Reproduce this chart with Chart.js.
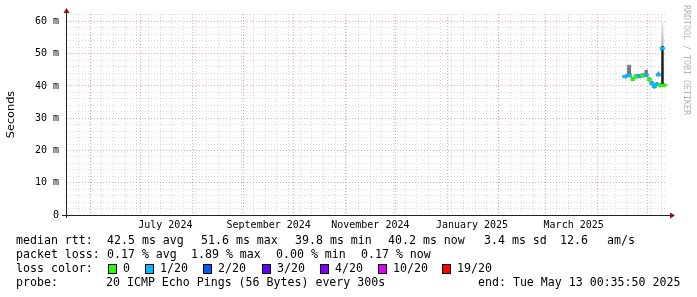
<!DOCTYPE html>
<html>
<head>
<meta charset="utf-8">
<script src="https://cdn.jsdelivr.net/npm/chart.js@4.4.1/dist/chart.umd.min.js"></script>
<style>
  html, body { margin: 0; padding: 0; background: #fff; }
</style>
</head>
<body>
<canvas id="smoke" width="697" height="297"></canvas>
<script>
// x values are days since graph start (2024-05-18 00:35), graph end (2025-05-13 00:35) = day 360
var rangeDays = 360;
var days    = [334.7, 337.4, 339.5, 341.3, 343.4, 345.5, 347.6, 349.4, 350.9, 352.4, 353.9, 354.8, 356.0, 357.2, 358.7];
var median  = [42.9, 43.3, 42.1, 42.9, 43.0, 43.2, 43.4, 42.0, 40.8, 39.8, 40.5, 43.5, 40.2, 51.6, 40.2];
var loss    = [1, 1, 0, 0, 1, 0, 1, 0, 1, 1, 1, 1, 0, 1, 0];   // lost pings out of 20
var smokeHi = [43.6, 46.6, 42.8, 43.6, 43.7, 43.9, 45.0, 42.7, 41.5, 40.5, 41.2, 44.5, 40.9, 59.7, 40.9];
var smokeLo = [42.3, 42.7, 41.5, 42.3, 42.4, 42.6, 42.8, 41.4, 40.2, 39.2, 39.9, 42.9, 39.6, 40.0, 39.6];
var coreHi  = [43.1, 43.6, 42.3, 43.1, 43.2, 43.4, 43.6, 42.2, 41.0, 40.0, 40.7, 43.7, 40.4, 52.4, 40.4];
var coreLo  = [42.7, 43.0, 41.9, 42.7, 42.8, 43.0, 43.2, 41.8, 40.6, 39.6, 40.3, 43.3, 40.0, 40.0, 40.0];

var monthStarts = [14, 44, 75, 106, 136, 167, 197, 228, 259, 287, 318, 348];
var firstWeek = 6.8;
var monthLabels = ['July 2024', 'September 2024', 'November 2024', 'January 2025', 'March 2025'];
var labelDays   = [59, 121, 182, 243, 304];

var yMax = 62.3;
var yLabelTicks = [0, 10, 20, 30, 40, 50, 60];

var lossSteps  = [0, 1, 2, 3, 4, 10, 19];
var lossNames  = ['0', '1/20', '2/20', '3/20', '4/20', '10/20', '19/20'];
var lossColors = ['#26ff00', '#00b8ff', '#0059ff', '#5e00ff', '#7e00ff', '#dd00ff', '#ff0000'];

var rttStats  = ['42.5 ms avg', '51.6 ms max', '39.8 ms min', '40.2 ms now', '3.4 ms sd', '12.6', 'am/s'];
var lossStats = ['0.17 % avg', '1.89 % max', '0.00 % min', '0.17 % now'];
var probeText = '20 ICMP Echo Pings (56 Bytes) every 300s';
var endText   = 'end: Tue May 13 00:35:50 2025';

function lossColor(n) {
    var c = lossColors[0];
    for (var i = 0; i < lossSteps.length; i++) {
        if (n >= lossSteps[i]) c = lossColors[i];
    }
    return c;
}

function pts(ys) {
    var out = [];
    for (var i = 0; i < days.length; i++) out.push({x: days[i], y: ys[i]});
    return out;
}

// x grid: weeks (gray), month starts (red), label positions (no line)
var xKind = {};
var xTickVals = [];
for (var w = firstWeek; w < rangeDays; w += 7) { xKind[w.toFixed(2)] = 'week'; xTickVals.push(w); }
monthStarts.forEach(function(d) { xKind[d.toFixed(2)] = 'month'; xTickVals.push(d); });
labelDays.forEach(function(d, i) { xKind[d.toFixed(2)] = 'label' + i; xTickVals.push(d); });
xTickVals.sort(function(a, b) { return a - b; });

var yTickVals = [];
for (var v = 0; v <= yMax; v += 2) yTickVals.push(v);

var mono = 'DejaVu Sans Mono';
var majorGrid = 'rgba(225,100,100,0.6)';
var minorGrid = 'rgba(150,150,150,0.35)';

var decor = {
    id: 'decor',
    afterDraw: function(chart) {
        var ctx = chart.ctx, a = chart.chartArea;
        ctx.save();
        // axes
        ctx.strokeStyle = '#222';
        ctx.lineWidth = 1;
        ctx.beginPath();
        ctx.moveTo(a.left - 5, a.bottom + 0.5);
        ctx.lineTo(a.right + 4, a.bottom + 0.5);
        ctx.moveTo(a.left - 0.5, a.bottom + 3);
        ctx.lineTo(a.left - 0.5, a.top - 2);
        ctx.stroke();
        ctx.fillStyle = '#8b1010';
        ctx.beginPath();
        ctx.moveTo(a.right + 8, a.bottom + 0.5);
        ctx.lineTo(a.right + 3, a.bottom - 2.5);
        ctx.lineTo(a.right + 3, a.bottom + 3.5);
        ctx.closePath();
        ctx.fill();
        ctx.beginPath();
        ctx.moveTo(a.left - 0.5, a.top - 6);
        ctx.lineTo(a.left - 3.5, a.top - 1);
        ctx.lineTo(a.left + 2.5, a.top - 1);
        ctx.closePath();
        ctx.fill();

        // legend
        ctx.fillStyle = '#000';
        ctx.font = '11.6px "' + mono + '"';
        ctx.textBaseline = 'middle';
        ctx.textAlign = 'left';
        ctx.fillText('median rtt:', 16, 241);
        var rttX = [107, 201, 295, 388, 484, 560, 607];
        rttStats.forEach(function(t, i) { ctx.fillText(t, rttX[i], 241); });
        ctx.fillText('packet loss:', 16, 255);
        var lossX = [107, 191, 276, 361];
        lossStats.forEach(function(t, i) { ctx.fillText(t, lossX[i], 255); });
        ctx.fillText('loss color:', 16, 269);
        var boxX = [108, 145, 203, 262, 320, 378, 442];
        lossNames.forEach(function(t, i) {
            ctx.fillStyle = lossColors[i];
            ctx.fillRect(boxX[i], 264, 9, 10);
            ctx.strokeStyle = '#000';
            ctx.strokeRect(boxX[i] + 0.5, 264.5, 8, 9);
            ctx.fillStyle = '#000';
            ctx.fillText(t, boxX[i] + 15, 269);
        });
        ctx.fillText('probe:', 16, 283);
        ctx.fillText(probeText, 106, 283);
        ctx.fillText(endText, 478, 283);

        // watermark
        ctx.translate(686, 5);
        ctx.rotate(Math.PI / 2);
        ctx.font = '8.3px "' + mono + '"';
        ctx.fillStyle = '#b4b4b4';
        ctx.textBaseline = 'middle';
        ctx.fillText('RRDTOOL / TOBI OETIKER', 0, 0);
        ctx.restore();
    }
};

var outerFill = function(c) {
    var ch = c.chart;
    if (!ch.chartArea) return '#999';
    var ys = ch.scales.y;
    var g = ch.ctx.createLinearGradient(0, ys.getPixelForValue(60), 0, ys.getPixelForValue(44));
    g.addColorStop(0, '#f0f0f0');
    g.addColorStop(1, '#707070');
    return g;
};

new Chart(document.getElementById('smoke'), {
    type: 'line',
    data: {
        datasets: [
            {
                // median: one short dash per sample, coloured by loss
                data: pts(median),
                showLine: false,
                pointStyle: 'line',
                pointRadius: 2.5,
                pointBorderWidth: 3,
                pointBorderColor: function(c) { return lossColor(loss[c.dataIndex]); }
            },
            { data: pts(coreHi), borderWidth: 0, pointRadius: 0, stepped: 'middle', fill: '+1', backgroundColor: '#1e1e1e' },
            { data: pts(coreLo), borderWidth: 0, pointRadius: 0, stepped: 'middle', fill: false },
            { data: pts(smokeHi), borderWidth: 0, pointRadius: 0, stepped: 'middle', fill: '+1', backgroundColor: outerFill },
            { data: pts(smokeLo), borderWidth: 0, pointRadius: 0, stepped: 'middle', fill: false }
        ]
    },
    options: {
        responsive: false,
        animation: false,
        layout: { padding: { top: 14, right: 30, bottom: 0, left: 0 } },
        plugins: { legend: { display: false }, tooltip: { enabled: false } },
        scales: {
            x: {
                type: 'linear',
                min: 0,
                max: rangeDays,
                afterBuildTicks: function(axis) {
                    axis.ticks = xTickVals.map(function(d) { return {value: d}; });
                },
                afterFit: function(axis) { axis.height = 82; },
                grid: {
                    drawTicks: false,
                    lineWidth: 1,
                    color: function(c) {
                        var k = c.tick ? xKind[c.tick.value.toFixed(2)] : '';
                        if (k === 'month') return majorGrid;
                        if (k === 'week') return minorGrid;
                        return 'rgba(0,0,0,0)';
                    }
                },
                border: { display: false, dash: [1, 2] },
                ticks: {
                    autoSkip: false,
                    maxRotation: 0,
                    minRotation: 0,
                    padding: 4,
                    color: '#000',
                    font: { family: mono, size: 10 },
                    callback: function(value) {
                        var k = xKind[Number(value).toFixed(2)] || '';
                        if (k.indexOf('label') === 0) return monthLabels[Number(k.slice(5))];
                        return '';
                    }
                }
            },
            y: {
                min: 0,
                max: yMax,
                afterBuildTicks: function(axis) {
                    axis.ticks = yTickVals.map(function(v) { return {value: v}; });
                },
                afterFit: function(axis) { axis.width = 67; },
                grid: {
                    drawTicks: false,
                    lineWidth: 1,
                    color: function(c) {
                        var v = c.tick ? c.tick.value : 0;
                        if (v === 0) return 'rgba(0,0,0,0)';
                        if (v % 10 === 0) return majorGrid;
                        return minorGrid;
                    }
                },
                border: { display: false, dash: [1, 2] },
                title: {
                    display: true,
                    text: 'Seconds',
                    color: '#000',
                    font: { family: 'DejaVu Sans', size: 11.3 },
                    padding: { top: 4, bottom: 0 }
                },
                ticks: {
                    autoSkip: false,
                    padding: 8,
                    color: '#000',
                    font: { family: mono, size: 10 },
                    callback: function(value) {
                        if (yLabelTicks.indexOf(value) < 0) return '';
                        return value === 0 ? '0' : value + ' m';
                    }
                }
            }
        }
    },
    plugins: [decor]
});
</script>
</body>
</html>
